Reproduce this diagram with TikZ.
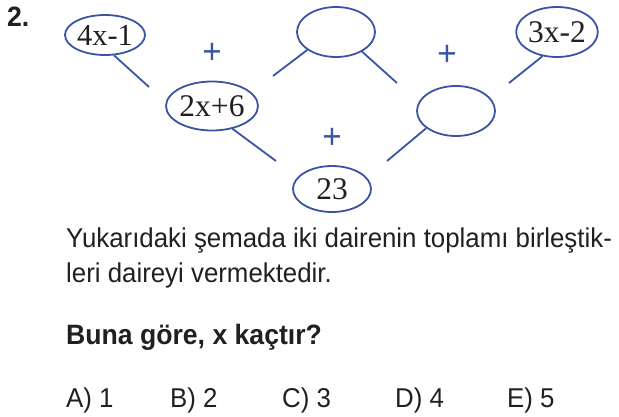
\documentclass[tikz,border=0pt]{standalone}
\usepackage{fontspec}
\setmainfont{Liberation Serif}
\newfontfamily\qsans[FakeStretch=0.95]{Liberation Sans}
\usetikzlibrary{shapes.geometric}
\definecolor{qblue}{HTML}{3A54A4}
\definecolor{qink}{HTML}{231F20}
\tikzset{
  bubble/.style={ellipse, draw=qblue, line width=1.8pt, inner sep=0pt, text=qink,
    font={\fontsize{31.5}{31.5}\selectfont}},
  link/.style={draw=qblue, line width=1.8pt},
  plus/.style={text=qblue, inner sep=0pt, font={\qsans\fontsize{35}{35}\selectfont}},
  body/.style={anchor=base west, inner sep=0pt, text=qink, font={\qsans\fontsize{27.2}{30}\selectfont}},
  bodyb/.style={body, font={\qsans\bfseries\fontsize{28}{30}\selectfont}},
  answer/.style={body}
}
\begin{document}
\begin{tikzpicture}[x=1pt, y=-1pt]
\useasboundingbox (0,0) rectangle (619,416);
% bubbles
\node[bubble, minimum width=80pt, minimum height=40pt, font={\fontsize{30.5}{30.5}\selectfont}] (e1) at (105,35) {4x-1};
\node[bubble, minimum width=90pt, minimum height=49pt] (e2) at (212,106) {2x+6};
\node[bubble, minimum width=78pt, minimum height=50pt] (e3) at (336,32) {};
\node[bubble, minimum width=78pt, minimum height=50pt] (e4) at (557,32) {3x-2};
\node[bubble, minimum width=78pt, minimum height=50pt] (e5) at (456,111) {};
\node[bubble, minimum width=78pt, minimum height=46pt] (e6) at (332,189) {23};
% free ends
\coordinate (c1) at (149,87);
\coordinate (c2) at (273,76);
\coordinate (c3) at (397,83);
\coordinate (c4) at (509,83);
\coordinate (c5) at (276,161);
\coordinate (c6) at (387,161);
\draw[link] (e1.-66) -- (c1);
\draw[link] (e3.-148) -- (c2);
\draw[link] (e3.-37) -- (c3);
\draw[link] (e4.-121) -- (c4);
\draw[link] (e2.-48) -- (c5);
\draw[link] (e5.-150) -- (c6);
% plus signs
\node[plus] (p1) at (212,53) {+};
\node[plus] (p2) at (447,55) {+};
\node[plus] (p3) at (332,138) {+};
% texts
\node[bodyb] (num) at (7,26) {2.};
\node[body] (t1) at (66,247) {Yukarıdaki şemada iki dairenin toplamı birleştik-};
\node[body] (t2) at (66,282) {leri daireyi vermektedir.};
\node[bodyb] (t3) at (66,344) {Buna göre, x kaçtır?};
\node[answer] (a) at (66,407) {A) 1};
\node[answer] (b) at (170,407) {B) 2};
\node[answer] (c) at (282,407) {C) 3};
\node[answer] (d) at (395,407) {D) 4};
\node[answer] (e) at (507,407) {E) 5};
\end{tikzpicture}
\end{document}
